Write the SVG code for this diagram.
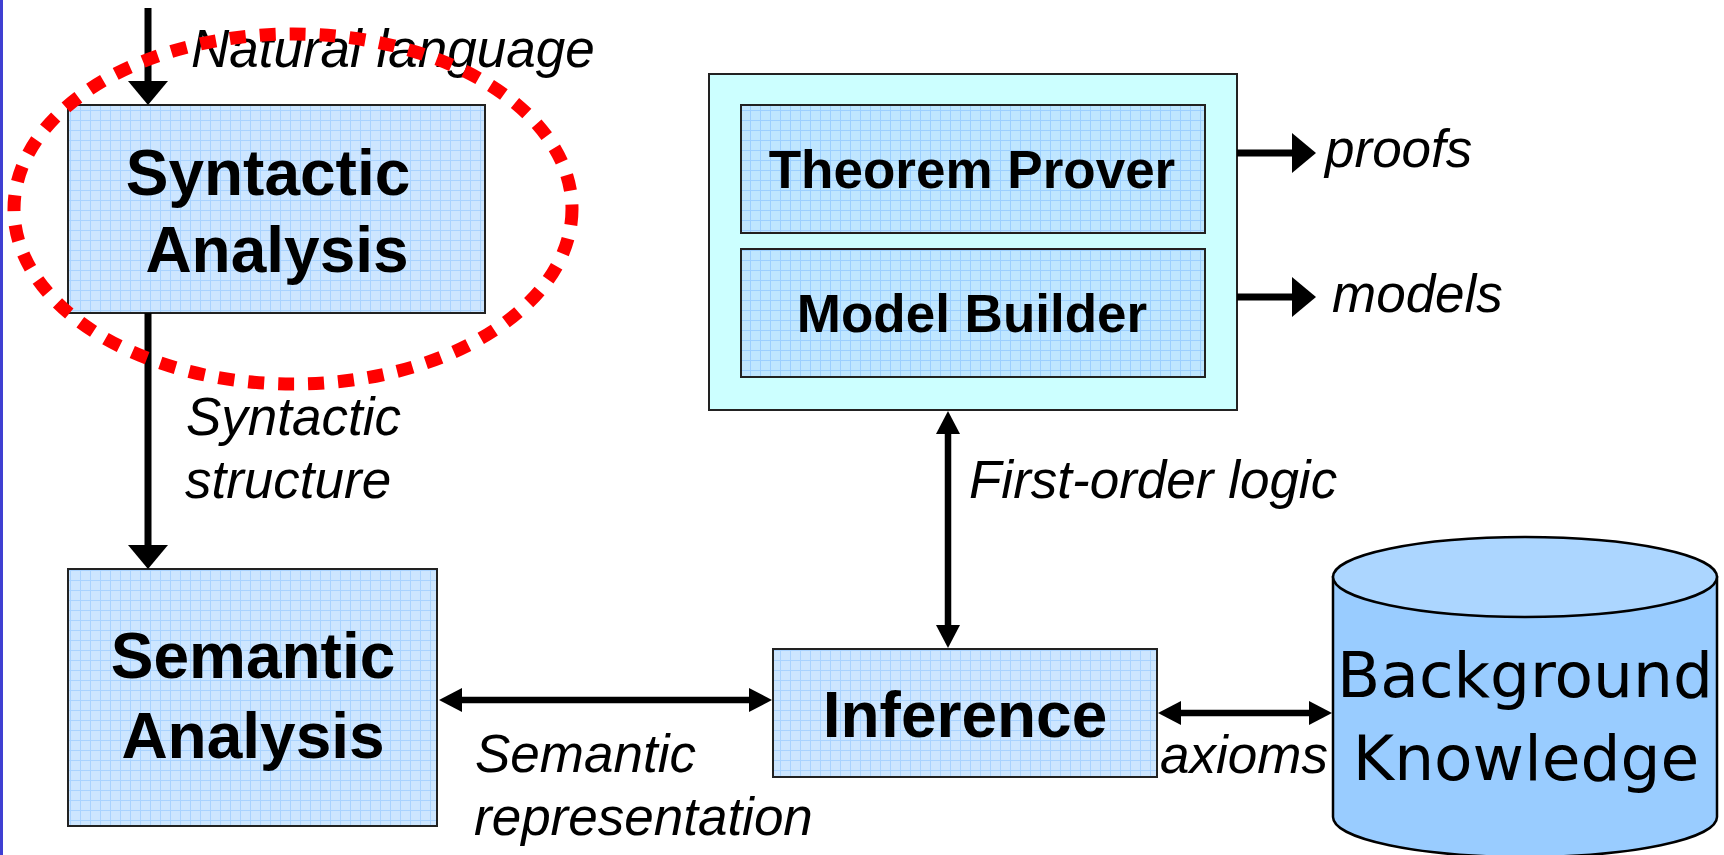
<svg xmlns="http://www.w3.org/2000/svg" width="1724" height="855" viewBox="0 0 1724 855">
<style>
.box{stroke:#222;stroke-width:2}
.bold{font-family:"Liberation Sans",Arial,sans-serif;font-weight:bold;fill:#000;text-anchor:middle}
.big{font-size:64px}
.mid{font-size:53px}
.lbl{font-family:"Liberation Sans",Arial,sans-serif;font-style:italic;font-size:53px;fill:#000}
.conn{stroke:#000;stroke-width:7;fill:none}
.dconn{stroke:#000;stroke-width:6.5;fill:none}
.kb{font-family:"DejaVu Sans",Verdana,sans-serif;font-size:63px;fill:#000;text-anchor:middle}
</style>
<defs>
<pattern id="grid1" width="10" height="10" patternUnits="userSpaceOnUse">
<rect width="10" height="10" fill="#cde6ff"/>
<path d="M0,0.5H10M0.5,0V10" stroke="#a9d3ff" stroke-width="1"/>
</pattern>
<pattern id="grid2" width="10" height="10" patternUnits="userSpaceOnUse">
<rect width="10" height="10" fill="#bfe6ff"/>
<path d="M0,0.5H10M0.5,0V10" stroke="#9ccfff" stroke-width="1"/>
</pattern>
<marker id="ah" markerUnits="userSpaceOnUse" markerWidth="26" markerHeight="40" refX="1" refY="20" orient="auto-start-reverse" overflow="visible">
<path d="M0,0 L24,20 L0,40 z" fill="#000"/>
</marker>
<marker id="ahs" markerUnits="userSpaceOnUse" markerWidth="25" markerHeight="24" refX="1" refY="12" orient="auto-start-reverse" overflow="visible">
<path d="M0,0 L23,12 L0,24 z" fill="#000"/>
</marker>
</defs>
<rect width="1724" height="855" fill="#fff"/>
<rect x="0" y="0" width="3" height="855" fill="#3f3fd2"/>

<g id="syntactic">
<rect class="box" x="68" y="105" width="417" height="208" fill="url(#grid1)"/>
<text class="bold big" x="268" y="195">Syntactic</text>
<text class="bold big" x="277" y="272">Analysis</text>
</g>

<g id="semantic">
<rect class="box" x="68" y="569" width="369" height="257" fill="url(#grid1)"/>
<text class="bold big" x="253" y="678">Semantic</text>
<text class="bold big" x="253" y="758">Analysis</text>
</g>

<g id="inference">
<rect class="box" x="773" y="649" width="384" height="128" fill="url(#grid1)"/>
<text class="bold big" x="965" y="737">Inference</text>
</g>

<g id="reasoner">
<rect class="box" x="709" y="74" width="528" height="336" fill="#ccffff"/>
<g id="theorem-prover">
<rect class="box" x="741" y="105" width="464" height="128" fill="url(#grid2)"/>
<text class="bold mid" x="972" y="188">Theorem Prover</text>
</g>
<g id="model-builder">
<rect class="box" x="741" y="249" width="464" height="128" fill="url(#grid2)"/>
<text class="bold mid" x="972" y="332">Model Builder</text>
</g>
</g>

<g id="background-knowledge">
<path d="M1333,577 V817 A192,40 0 0 0 1717,817 V577 z" fill="#99ccff" stroke="#000" stroke-width="2.5"/>
<ellipse cx="1525" cy="577" rx="192" ry="40" fill="#acd6ff" stroke="#000" stroke-width="2.5"/>
<text class="kb" x="1525" y="697">Background</text>
<text class="kb" x="1526" y="780">Knowledge</text>
</g>

<g id="connectors">
<line class="conn" x1="148" y1="8" x2="148" y2="82" marker-end="url(#ah)"/>
<line class="conn" x1="148" y1="313" x2="148" y2="546" marker-end="url(#ah)"/>
<line class="conn" x1="1237" y1="153" x2="1293" y2="153" marker-end="url(#ah)"/>
<line class="conn" x1="1237" y1="297" x2="1293" y2="297" marker-end="url(#ah)"/>
<line class="dconn" x1="948" y1="433" x2="948" y2="626" marker-start="url(#ahs)" marker-end="url(#ahs)"/>
<line class="dconn" x1="461" y1="700" x2="750" y2="700" marker-start="url(#ahs)" marker-end="url(#ahs)"/>
<line class="dconn" x1="1180" y1="713" x2="1310" y2="713" marker-start="url(#ahs)" marker-end="url(#ahs)"/>
</g>

<g id="labels">
<text class="lbl" x="191" y="67">Natural language</text>
<text class="lbl" x="186" y="435">Syntactic</text>
<text class="lbl" x="185" y="498">structure</text>
<text class="lbl" x="969" y="498">First-order logic</text>
<text class="lbl" x="1325" y="167">proofs</text>
<text class="lbl" x="1332" y="312">models</text>
<text class="lbl" x="475" y="772">Semantic</text>
<text class="lbl" x="474" y="835">representation</text>
<text class="lbl" x="1160" y="773">axioms</text>
</g>

<ellipse id="highlight" cx="293" cy="209" rx="279" ry="175" fill="none" stroke="#ff0000" stroke-width="13" stroke-dasharray="16 14"/>
</svg>
